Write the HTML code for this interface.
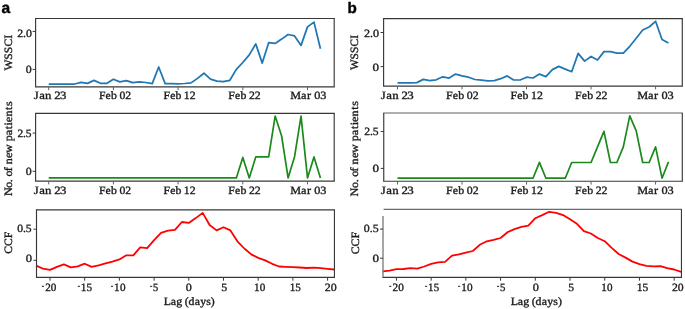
<!DOCTYPE html>
<html><head><meta charset="utf-8"><style>
html,body{margin:0;padding:0;background:#fff;}
svg{display:block;}
g.t{opacity:0.995;}
text{text-rendering:geometricPrecision;font-family:"Liberation Serif",serif;font-size:11.2px;fill:#1a1a1a;stroke:#1a1a1a;stroke-width:0.35px;}
text.pl{font-family:"Liberation Sans",sans-serif;font-weight:bold;fill:#000;stroke:#000;stroke-width:0.4px;}
</style></head><body>
<svg width="685" height="309" viewBox="0 0 685 309">
<rect width="685" height="309" fill="#fff"/>
<polyline points="48.7,84 55.17,84 61.64,84 68.11,84 74.58,84 81.05,82.4 87.52,83.4 93.99,80.4 100.46,83.3 106.93,83.3 113.4,79.2 119.87,81.9 126.34,80.6 132.81,82.7 139.28,81.8 145.75,82.5 152.22,83.6 158.69,67 165.16,83.6 171.63,83.7 178.1,83.8 184.57,83.5 191.04,82.9 197.51,78.4 203.98,73.2 210.45,79.2 216.92,81.1 223.39,81.6 229.86,80.3 236.33,69.4 242.8,62.5 249.27,54.9 255.74,43.9 262.21,63.1 268.68,42.7 275.15,43.4 281.62,39.1 288.09,34.5 294.56,35.9 301.03,45.4 307.5,26.9 313.97,22.1 320.44,48.8" fill="none" stroke="#1f77b4" stroke-width="1.75" stroke-linejoin="round"/>
<line x1="35.02" y1="18.5" x2="334.77" y2="18.5" stroke="#383838" stroke-width="1.15"/>
<line x1="35.02" y1="86.85" x2="334.77" y2="86.85" stroke="#383838" stroke-width="1.15"/>
<line x1="35.6" y1="18.5" x2="35.6" y2="86.85" stroke="#383838" stroke-width="1.15"/>
<line x1="334.2" y1="18.5" x2="334.2" y2="86.85" stroke="#383838" stroke-width="1.15"/>
<line x1="32.6" y1="31.4" x2="35.6" y2="31.4" stroke="#383838" stroke-width="1"/>
<line x1="32.6" y1="69.4" x2="35.6" y2="69.4" stroke="#383838" stroke-width="1"/>
<line x1="48.7" y1="86.85" x2="48.7" y2="90.15" stroke="#606060" stroke-width="1"/>
<line x1="113.4" y1="86.85" x2="113.4" y2="90.15" stroke="#606060" stroke-width="1"/>
<line x1="178.1" y1="86.85" x2="178.1" y2="90.15" stroke="#606060" stroke-width="1"/>
<line x1="242.8" y1="86.85" x2="242.8" y2="90.15" stroke="#606060" stroke-width="1"/>
<line x1="307.5" y1="86.85" x2="307.5" y2="90.15" stroke="#606060" stroke-width="1"/>
<polyline points="48.7,177.9 55.17,177.9 61.64,177.9 68.11,177.9 74.58,177.9 81.05,177.9 87.52,177.9 93.99,177.9 100.46,177.9 106.93,177.9 113.4,177.9 119.87,177.9 126.34,177.9 132.81,177.9 139.28,177.9 145.75,177.9 152.22,177.9 158.69,177.9 165.16,177.9 171.63,177.9 178.1,177.9 184.57,177.9 191.04,177.9 197.51,177.9 203.98,177.9 210.45,177.9 216.92,177.9 223.39,177.9 229.86,177.9 236.33,177.9 242.8,157.4 249.27,177.9 255.74,156.9 262.21,156.9 268.68,156.9 275.15,116.1 281.62,136 288.09,177.9 294.56,156.7 301.03,116.1 307.5,177.9 313.97,156.9 320.44,177.9" fill="none" stroke="#1a8a1a" stroke-width="1.7" stroke-linejoin="round"/>
<line x1="35.02" y1="113.4" x2="334.77" y2="113.4" stroke="#383838" stroke-width="1.15"/>
<line x1="35.02" y1="181.1" x2="334.77" y2="181.1" stroke="#383838" stroke-width="1.15"/>
<line x1="35.6" y1="113.4" x2="35.6" y2="181.1" stroke="#383838" stroke-width="1.15"/>
<line x1="334.2" y1="113.4" x2="334.2" y2="181.1" stroke="#383838" stroke-width="1.15"/>
<line x1="32.6" y1="133.1" x2="35.6" y2="133.1" stroke="#383838" stroke-width="1"/>
<line x1="32.6" y1="171.3" x2="35.6" y2="171.3" stroke="#383838" stroke-width="1"/>
<line x1="48.7" y1="181.1" x2="48.7" y2="184.4" stroke="#606060" stroke-width="1"/>
<line x1="113.4" y1="181.1" x2="113.4" y2="184.4" stroke="#606060" stroke-width="1"/>
<line x1="178.1" y1="181.1" x2="178.1" y2="184.4" stroke="#606060" stroke-width="1"/>
<line x1="242.8" y1="181.1" x2="242.8" y2="184.4" stroke="#606060" stroke-width="1"/>
<line x1="307.5" y1="181.1" x2="307.5" y2="184.4" stroke="#606060" stroke-width="1"/>
<polyline points="36.12,265.6 43.06,268.7 50,269.9 56.94,266.9 63.88,264.4 70.82,267.4 77.76,266.3 84.7,263.7 91.64,266.9 98.58,265.3 105.52,263.4 112.46,261.6 119.4,259.4 126.34,255.3 133.28,255.3 140.22,247.4 147.16,248.1 154.1,240.1 161.04,232.9 167.98,230.6 174.92,229.9 181.86,222 188.8,222.9 195.74,218.1 202.68,212.9 209.62,225 216.56,230.4 223.5,227.2 230.44,230.4 237.38,241.3 244.32,248.5 251.26,254.4 258.2,257.9 265.14,260.4 272.08,263.8 279.02,266.5 285.96,266.8 292.9,267.2 299.84,267.5 306.78,268 313.72,267.7 320.66,268.2 327.6,268.8 334.54,269.5" fill="none" stroke="#ff0000" stroke-width="1.8" stroke-linejoin="round"/>
<line x1="35.92" y1="209.8" x2="335.02" y2="209.8" stroke="#383838" stroke-width="1.15"/>
<line x1="35.92" y1="277.3" x2="335.02" y2="277.3" stroke="#383838" stroke-width="1.15"/>
<line x1="36.5" y1="209.8" x2="36.5" y2="277.3" stroke="#383838" stroke-width="1.15"/>
<line x1="334.45" y1="209.8" x2="334.45" y2="277.3" stroke="#383838" stroke-width="1.15"/>
<line x1="33.5" y1="229.2" x2="36.5" y2="229.2" stroke="#383838" stroke-width="1"/>
<line x1="33.5" y1="260.3" x2="36.5" y2="260.3" stroke="#383838" stroke-width="1"/>
<line x1="50" y1="277.3" x2="50" y2="280.7" stroke="#383838" stroke-width="1"/>
<line x1="84.7" y1="277.3" x2="84.7" y2="280.7" stroke="#383838" stroke-width="1"/>
<line x1="119.4" y1="277.3" x2="119.4" y2="280.7" stroke="#383838" stroke-width="1"/>
<line x1="154.1" y1="277.3" x2="154.1" y2="280.7" stroke="#383838" stroke-width="1"/>
<line x1="188.8" y1="277.3" x2="188.8" y2="280.7" stroke="#383838" stroke-width="1"/>
<line x1="223.5" y1="277.3" x2="223.5" y2="280.7" stroke="#383838" stroke-width="1"/>
<line x1="258.2" y1="277.3" x2="258.2" y2="280.7" stroke="#383838" stroke-width="1"/>
<line x1="292.9" y1="277.3" x2="292.9" y2="280.7" stroke="#383838" stroke-width="1"/>
<line x1="327.6" y1="277.3" x2="327.6" y2="280.7" stroke="#383838" stroke-width="1"/>
<polyline points="397.5,82.9 403.95,82.9 410.4,82.9 416.86,82.6 423.31,79.4 429.76,80.7 436.21,79.8 442.66,76.8 449.12,78.1 455.57,74.1 462.02,75.8 468.47,77.2 474.92,79.5 481.38,80.2 487.83,80.8 494.28,80.7 500.73,78.7 507.18,75.9 513.64,79.9 520.09,80 526.54,77.2 532.99,78 539.44,74.1 545.9,76.6 552.35,69.6 558.8,66.4 565.25,69.1 571.7,71.7 578.16,53.4 584.61,61.1 591.06,56.5 597.51,60 603.96,51.6 610.42,51.6 616.87,53.1 623.32,53.1 629.77,46.3 636.22,38.3 642.68,30 649.13,27 655.58,21.3 662.03,39.5 668.48,42.9" fill="none" stroke="#1f77b4" stroke-width="1.75" stroke-linejoin="round"/>
<line x1="383.03" y1="18.55" x2="682.88" y2="18.55" stroke="#383838" stroke-width="1.15"/>
<line x1="383.03" y1="86.05" x2="682.88" y2="86.05" stroke="#383838" stroke-width="1.15"/>
<line x1="383.6" y1="18.55" x2="383.6" y2="86.05" stroke="#383838" stroke-width="1.15"/>
<line x1="682.3" y1="18.55" x2="682.3" y2="86.05" stroke="#383838" stroke-width="1.15"/>
<line x1="380.6" y1="32.5" x2="383.6" y2="32.5" stroke="#383838" stroke-width="1"/>
<line x1="380.6" y1="66.6" x2="383.6" y2="66.6" stroke="#383838" stroke-width="1"/>
<line x1="397.5" y1="86.05" x2="397.5" y2="89.35" stroke="#606060" stroke-width="1"/>
<line x1="462.02" y1="86.05" x2="462.02" y2="89.35" stroke="#606060" stroke-width="1"/>
<line x1="526.54" y1="86.05" x2="526.54" y2="89.35" stroke="#606060" stroke-width="1"/>
<line x1="591.06" y1="86.05" x2="591.06" y2="89.35" stroke="#606060" stroke-width="1"/>
<line x1="655.58" y1="86.05" x2="655.58" y2="89.35" stroke="#606060" stroke-width="1"/>
<polyline points="397.5,178.2 403.95,178.2 410.4,178.2 416.86,178.2 423.31,178.2 429.76,178.2 436.21,178.2 442.66,178.2 449.12,178.2 455.57,178.2 462.02,178.2 468.47,178.2 474.92,178.2 481.38,178.2 487.83,178.2 494.28,178.2 500.73,178.2 507.18,178.2 513.64,178.2 520.09,178.2 526.54,178.2 532.99,178.2 539.44,162.4 545.9,178.2 552.35,178.2 558.8,178.2 565.25,178.2 571.7,162.5 578.16,162.5 584.61,162.5 591.06,162.5 597.51,146.9 603.96,131.4 610.42,162.5 616.87,162.5 623.32,146.9 629.77,115.9 636.22,130.9 642.68,162.5 649.13,162.5 655.58,146.9 662.03,178.2 668.48,161.9" fill="none" stroke="#1a8a1a" stroke-width="1.7" stroke-linejoin="round"/>
<line x1="383.18" y1="113" x2="682.88" y2="113" stroke="#606060" stroke-width="1.15"/>
<line x1="383.18" y1="181.26" x2="682.88" y2="181.26" stroke="#383838" stroke-width="1.15"/>
<line x1="383.75" y1="113" x2="383.75" y2="181.26" stroke="#383838" stroke-width="1.15"/>
<line x1="682.3" y1="113" x2="682.3" y2="181.26" stroke="#383838" stroke-width="1.15"/>
<line x1="380.75" y1="131.5" x2="383.75" y2="131.5" stroke="#383838" stroke-width="1"/>
<line x1="380.75" y1="168.4" x2="383.75" y2="168.4" stroke="#383838" stroke-width="1"/>
<line x1="397.5" y1="181.26" x2="397.5" y2="184.56" stroke="#606060" stroke-width="1"/>
<line x1="462.02" y1="181.26" x2="462.02" y2="184.56" stroke="#606060" stroke-width="1"/>
<line x1="526.54" y1="181.26" x2="526.54" y2="184.56" stroke="#606060" stroke-width="1"/>
<line x1="591.06" y1="181.26" x2="591.06" y2="184.56" stroke="#606060" stroke-width="1"/>
<line x1="655.58" y1="181.26" x2="655.58" y2="184.56" stroke="#606060" stroke-width="1"/>
<polyline points="382.55,271.4 389.5,270.7 396.44,269.2 403.38,269 410.33,268.2 417.27,268.6 424.21,266.5 431.15,263.8 438.1,262.3 445.04,261.9 451.98,255.6 458.93,254.3 465.87,252.7 472.81,251 479.76,244.8 486.7,241.3 493.64,239.9 500.58,238 507.53,232.2 514.47,229.2 521.41,226.9 528.36,225.6 535.3,218.2 542.24,215.1 549.19,211.8 556.13,212.8 563.07,215.1 570.01,219.2 576.96,223.8 583.9,231.2 590.84,233.5 597.79,238 604.73,241.2 611.67,247.9 618.62,254 625.56,257.6 632.5,261.6 639.44,264.1 646.39,265.9 653.33,266.3 660.27,266.1 667.22,268.2 674.16,269.5 681.1,271.8" fill="none" stroke="#ff0000" stroke-width="1.8" stroke-linejoin="round"/>
<line x1="383.6" y1="209.4" x2="682.03" y2="209.4" stroke="#6a6a6a" stroke-width="1.15"/>
<line x1="382.43" y1="277.3" x2="682.03" y2="277.3" stroke="#383838" stroke-width="1.15"/>
<line x1="383" y1="216" x2="383" y2="277.3" stroke="#808080" stroke-width="1.4"/>
<line x1="681.45" y1="209.4" x2="681.45" y2="277.3" stroke="#383838" stroke-width="1.15"/>
<line x1="380" y1="229.1" x2="383" y2="229.1" stroke="#383838" stroke-width="1"/>
<line x1="380" y1="258.2" x2="383" y2="258.2" stroke="#383838" stroke-width="1"/>
<line x1="396.44" y1="277.3" x2="396.44" y2="280.7" stroke="#383838" stroke-width="1"/>
<line x1="431.15" y1="277.3" x2="431.15" y2="280.7" stroke="#383838" stroke-width="1"/>
<line x1="465.87" y1="277.3" x2="465.87" y2="280.7" stroke="#383838" stroke-width="1"/>
<line x1="500.58" y1="277.3" x2="500.58" y2="280.7" stroke="#383838" stroke-width="1"/>
<line x1="535.3" y1="277.3" x2="535.3" y2="280.7" stroke="#383838" stroke-width="1"/>
<line x1="570.01" y1="277.3" x2="570.01" y2="280.7" stroke="#383838" stroke-width="1"/>
<line x1="604.73" y1="277.3" x2="604.73" y2="280.7" stroke="#383838" stroke-width="1"/>
<line x1="639.44" y1="277.3" x2="639.44" y2="280.7" stroke="#383838" stroke-width="1"/>
<line x1="674.16" y1="277.3" x2="674.16" y2="280.7" stroke="#383838" stroke-width="1"/>
<g class="t">
<text x="35.69 40.43 45.61 51.19 53.73 58.78" y="99.25" transform="matrix(1.1384 0 0 1 -6.888 0)">Jan 23</text>
<text x="35.69 40.43 45.61 51.19 53.73 58.78" y="194.15" transform="matrix(1.1384 0 0 1 -6.888 0)">Jan 23</text>
<text x="99.68 106.01 111.16 116.47 119.2 124.76" y="99.25" transform="matrix(1.0494 0 0 1 -5.679 0)">Feb 02</text>
<text x="99.68 106.01 111.16 116.47 119.2 124.76" y="194.15" transform="matrix(1.0494 0 0 1 -5.679 0)">Feb 02</text>
<text x="164.28 170.61 175.76 181.07 183.64 189.36" y="99.25" transform="matrix(1.0494 0 0 1 -8.873 0)">Feb 12</text>
<text x="164.28 170.61 175.76 181.07 183.64 189.36" y="194.15" transform="matrix(1.0494 0 0 1 -8.873 0)">Feb 12</text>
<text x="229.18 235.51 240.66 245.97 248.76 254.26" y="99.25" transform="matrix(1.0561 0 0 1 -13.700 0)">Feb 22</text>
<text x="229.18 235.51 240.66 245.97 248.76 254.26" y="194.15" transform="matrix(1.0561 0 0 1 -13.700 0)">Feb 22</text>
<text x="291.82 301.53 307.11 311.18 313.86 319.26" y="99.25" transform="matrix(1.0913 0 0 1 -28.168 0)">Mar 03</text>
<text x="291.82 301.53 307.11 311.18 313.86 319.26" y="194.15" transform="matrix(1.0913 0 0 1 -28.168 0)">Mar 03</text>
<text x="382.94 387.68 392.86 398.44 400.98 406.03" y="99.35" transform="matrix(1.1490 0 0 1 -59.159 0)">Jan 23</text>
<text x="382.94 387.68 392.86 398.44 400.98 406.03" y="194.25" transform="matrix(1.1490 0 0 1 -59.159 0)">Jan 23</text>
<text x="446.98 453.31 458.46 463.77 466.5 472.06" y="99.35" transform="matrix(1.0627 0 0 1 -28.972 0)">Feb 02</text>
<text x="446.98 453.31 458.46 463.77 466.5 472.06" y="194.25" transform="matrix(1.0627 0 0 1 -28.972 0)">Feb 02</text>
<text x="511.28 517.61 522.76 528.07 530.64 536.36" y="99.35" transform="matrix(1.0561 0 0 1 -29.518 0)">Feb 12</text>
<text x="511.28 517.61 522.76 528.07 530.64 536.36" y="194.25" transform="matrix(1.0561 0 0 1 -29.518 0)">Feb 12</text>
<text x="575.93 582.26 587.41 592.72 595.51 601.01" y="99.35" transform="matrix(1.0594 0 0 1 -35.099 0)">Feb 22</text>
<text x="575.93 582.26 587.41 592.72 595.51 601.01" y="194.25" transform="matrix(1.0594 0 0 1 -35.099 0)">Feb 22</text>
<text x="638.87 648.58 654.16 658.23 660.91 666.31" y="99.35" transform="matrix(1.1007 0 0 1 -65.989 0)">Mar 03</text>
<text x="638.87 648.58 654.16 658.23 660.91 666.31" y="194.25" transform="matrix(1.1007 0 0 1 -65.989 0)">Mar 03</text>
<rect x="41.9" y="285.8" width="2.1" height="1.05" fill="#262626"/><text x="45.16 50.84" y="290.95" transform="matrix(0.9993 0 0 1 0.033 0)">20</text>
<rect x="77.8" y="285.8" width="2.1" height="1.05" fill="#262626"/><text x="80.84 86.64" y="290.95" transform="matrix(0.9993 0 0 1 0.058 0)">15</text>
<rect x="111" y="285.8" width="2.1" height="1.05" fill="#262626"/><text x="114.04 119.94" y="290.95" transform="matrix(0.9993 0 0 1 0.081 0)">10</text>
<rect x="150.1" y="285.8" width="2.1" height="1.05" fill="#262626"/><text x="152.99" y="290.95" transform="matrix(0.9310 0 0 1 10.631 0)">5</text>
<text x="185.9" y="290.95" transform="matrix(1.0809 0 0 1 -15.272 0)">0</text>
<text x="221.34" y="290.95" transform="matrix(1.0609 0 0 1 -13.660 0)">5</text>
<text x="254.04 259.8" y="290.95" transform="matrix(1.0004 0 0 1 -0.106 0)">10</text>
<text x="289.59 295.24" y="290.95" transform="matrix(0.9910 0 0 1 2.667 0)">15</text>
<text x="325.11 330.65" y="290.95" transform="matrix(1.0665 0 0 1 -21.979 0)">20</text>
<rect x="389.2" y="285.8" width="2.1" height="1.05" fill="#262626"/><text x="392.51 398.19" y="290.95" transform="matrix(1.0063 0 0 1 -2.500 0)">20</text>
<rect x="425.1" y="285.8" width="2.1" height="1.05" fill="#262626"/><text x="427.89 433.69" y="290.95" transform="matrix(0.9644 0 0 1 15.390 0)">15</text>
<rect x="458.1" y="285.8" width="2.1" height="1.05" fill="#262626"/><text x="461.19 467.09" y="290.95" transform="matrix(1.0063 0 0 1 -2.934 0)">10</text>
<rect x="497" y="285.8" width="2.1" height="1.05" fill="#262626"/><text x="500.04" y="290.95" transform="matrix(0.9655 0 0 1 17.283 0)">5</text>
<text x="533.05" y="290.95" transform="matrix(1.1010 0 0 1 -54.094 0)">0</text>
<text x="568.49" y="290.95" transform="matrix(1.0409 0 0 1 -23.369 0)">5</text>
<text x="601.29 607.05" y="290.95" transform="matrix(0.9910 0 0 1 5.482 0)">10</text>
<text x="636.99 642.64" y="290.95" transform="matrix(1.0287 0 0 1 -18.460 0)">15</text>
<text x="672.21 677.75" y="290.95" transform="matrix(1.0476 0 0 1 -32.258 0)">20</text>
<text x="165.03 171.77 176.89 182.48 185 188.52 194.48 199.69 205.32 209.69" y="305.05" transform="matrix(1.0524 0 0 1 -9.915 0)">Lag (days)</text>
<text x="512.13 518.87 523.99 529.58 532.1 535.62 541.58 546.79 552.42 556.79" y="305.35" transform="matrix(1.0566 0 0 1 -30.373 0)">Lag (days)</text>
<text x="17.66 23.2 26" y="36.85" transform="matrix(1.0600 0 0 1 -1.477 0)">2.0</text>
<text x="25.95" y="72.65" transform="matrix(1.0609 0 0 1 -1.751 0)">0</text>
<text x="17.61 23.15 25.84" y="136.65" transform="matrix(1.0227 0 0 1 -0.558 0)">2.5</text>
<text x="25.95" y="175.25" transform="matrix(1.0609 0 0 1 -1.751 0)">0</text>
<text x="17.45 23.05 25.74" y="231.65" transform="matrix(1.0376 0 0 1 -0.920 0)">0.5</text>
<text x="26.1" y="262.15" transform="matrix(1.1210 0 0 1 -3.496 0)">0</text>
<text x="364.61 370.15 372.95" y="36.65" transform="matrix(1.0824 0 0 1 -30.630 0)">2.0</text>
<text x="373" y="70.65" transform="matrix(1.1610 0 0 1 -60.505 0)">0</text>
<text x="364.51 370.05 372.74" y="135.25" transform="matrix(1.0376 0 0 1 -13.984 0)">2.5</text>
<text x="373" y="172.45" transform="matrix(1.1610 0 0 1 -60.505 0)">0</text>
<text x="364.3 369.9 372.59" y="231.65" transform="matrix(1.0600 0 0 1 -22.294 0)">0.5</text>
<text x="373" y="262.05" transform="matrix(1.1610 0 0 1 -60.505 0)">0</text>
<g transform="translate(11.3 52.45) rotate(-90)"><text x="-17.41 -7.09 -0.69 5.66 13.18" y="0.25" transform="matrix(1.0381 0 0 1 -0.000 0)">WSSCI</text></g>
<g transform="translate(11.5 148.65) rotate(-90)"><text x="-43.94 -36.21 -31 -28.27 -25.86 -21.01 -17.38 -14.47 -8.69 -3.94 3.87 6.77 12.38 18.04 21.5 24.55 29.66 35.83 39.38" y="0.25" transform="matrix(1.0801 0 0 1 -0.000 0)">No. of new patients</text></g>
<g transform="translate(11.5 242.6) rotate(-90)"><text x="-10.62 -3.38 4.17" y="0.25" transform="matrix(1.0405 0 0 1 -0.000 0)">CCF</text></g>
<g transform="translate(357.9 52.25) rotate(-90)"><text x="-17.41 -7.09 -0.69 5.66 13.18" y="0.25" transform="matrix(1.0202 0 0 1 -0.000 0)">WSSCI</text></g>
<g transform="translate(358.1 148.65) rotate(-90)"><text x="-43.94 -36.21 -31 -28.27 -25.86 -21.01 -17.38 -14.47 -8.69 -3.94 3.87 6.77 12.38 18.04 21.5 24.55 29.66 35.83 39.38" y="0.25" transform="matrix(1.0869 0 0 1 -0.000 0)">No. of new patients</text></g>
<g transform="translate(358.3 242.9) rotate(-90)"><text x="-10.62 -3.38 4.17" y="0.25" transform="matrix(1.0599 0 0 1 -0.000 0)">CCF</text></g>
<text class="pl" x="1.55" y="12.95" style="font-size:15.6px">a</text>
<text class="pl" x="347.42" y="12.55" style="font-size:15.2px">b</text>
</g>
</svg>
</body></html>
